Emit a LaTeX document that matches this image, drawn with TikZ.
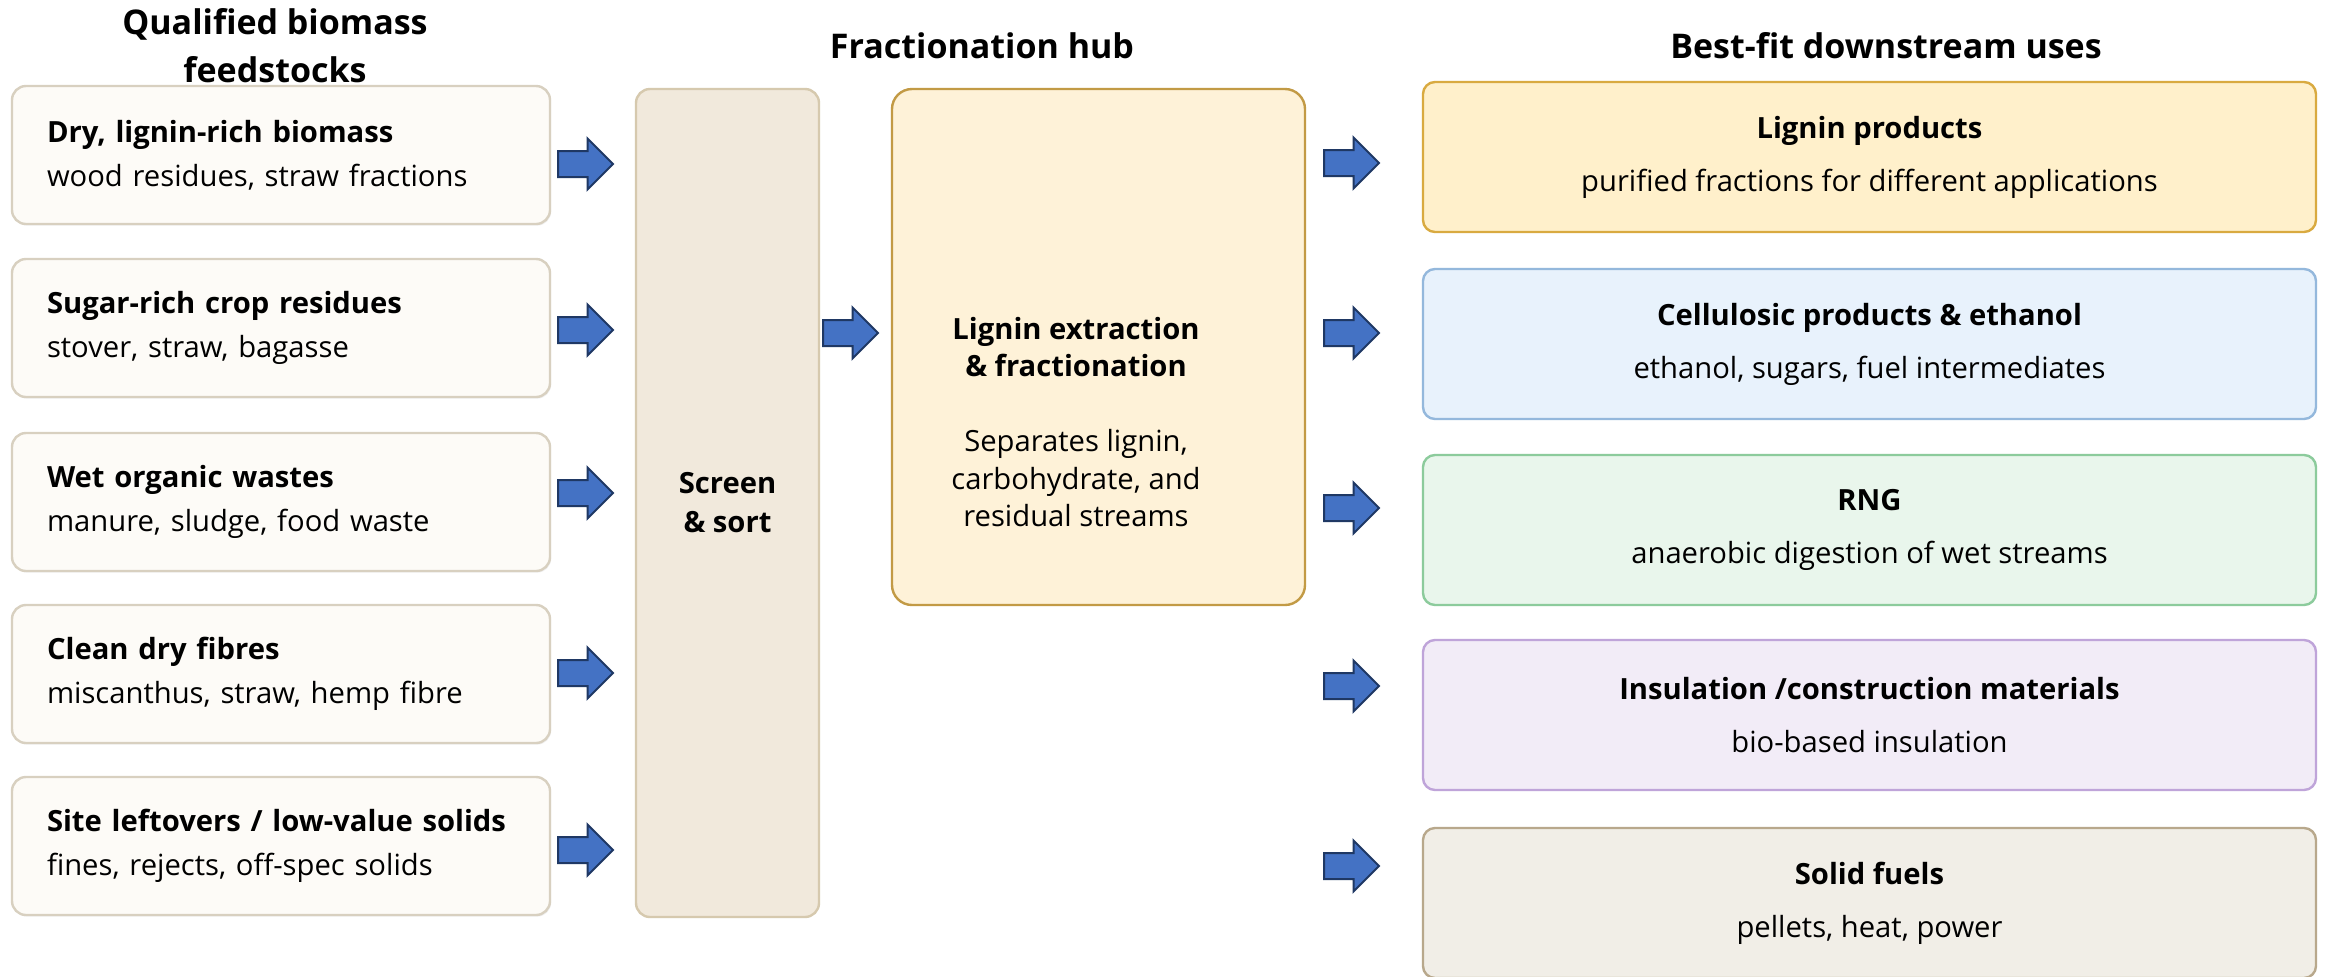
\documentclass[tikz,border=0pt]{standalone}
\usepackage{fontspec}
\setmainfont{Open Sans}
\usetikzlibrary{shapes.arrows,shadows}
\definecolor{leftfill}{HTML}{FDFBF7}
\definecolor{leftdraw}{HTML}{D8D0C0}
\definecolor{screenfill}{HTML}{F1E9DC}
\definecolor{screendraw}{HTML}{D6C9AE}
\definecolor{lignfill}{HTML}{FEF2D8}
\definecolor{ligndraw}{HTML}{C29A45}
\definecolor{ronefill}{HTML}{FFF0CB}
\definecolor{ronedraw}{HTML}{D9AA40}
\definecolor{rtwofill}{HTML}{E8F2FC}
\definecolor{rtwodraw}{HTML}{94B8DC}
\definecolor{rthreefill}{HTML}{E9F6EC}
\definecolor{rthreedraw}{HTML}{8CCB9C}
\definecolor{rfourfill}{HTML}{F2ECF7}
\definecolor{rfourdraw}{HTML}{BFA4D9}
\definecolor{rfivefill}{HTML}{F1EEE7}
\definecolor{rfivedraw}{HTML}{B8A88C}
\definecolor{arrfill}{HTML}{4472C4}
\definecolor{arrdraw}{HTML}{1F3864}
\tikzset{
  heading/.style={font=\fontsize{17}{24}\selectfont\bfseries, align=center, inner sep=0pt},
  lbox/.style={draw=leftdraw, fill=leftfill, line width=1.2pt, rounded corners=7pt,
    minimum width=269pt, minimum height=69pt, text width=234pt, align=left, inner sep=0pt,
    font=\fontsize{14.6}{22}\selectfont,
    drop shadow={shadow xshift=0.6pt, shadow yshift=-0.8pt, opacity=0.12}},
  rbox/.style={line width=1.2pt, rounded corners=6pt,
    minimum width=446.5pt, minimum height=75pt, align=center, inner sep=0pt,
    font=\fontsize{14.6}{26.5}\selectfont},
  barrow/.style={single arrow, draw=arrdraw, fill=arrfill, line width=1pt,
    minimum height=27.5pt, single arrow head extend=6.25pt,
    inner xsep=0pt, inner ysep=6pt, anchor=tail}
}
\begin{document}
\begin{tikzpicture}[x=0.5pt,y=-0.5pt]
\useasboundingbox (0,0) rectangle (2330,976);
\fill[white] (0,0) rectangle (2330,976);

% headings
\node[heading] (h1) at (275,46) {Qualified biomass\\feedstocks};
\node[heading] (h2) at (982,46) {Fractionation hub};
\node[heading] (h3) at (1886,46) {Best-fit downstream uses};

% left boxes
\node[lbox] (l1) at (281,155) {\textbf{Dry, lignin-rich biomass}\\wood residues, straw fractions};
\node[lbox] (l2) at (281,328) {\textbf{Sugar-rich crop residues}\\stover, straw, bagasse};
\node[lbox] (l3) at (281,502) {\textbf{Wet organic wastes}\\manure, sludge, food waste};
\node[lbox] (l4) at (281,674) {\textbf{Clean dry fibres}\\miscanthus, straw, hemp fibre};
\node[lbox] (l5) at (281,846) {\textbf{Site leftovers / low-value solids}\\fines, rejects, off-spec solids};

% screen & sort
\node[draw=screendraw, fill=screenfill, line width=1.2pt, rounded corners=7pt,
  minimum width=91.5pt, minimum height=414pt, inner sep=0pt, align=center,
  font=\fontsize{14.6}{19.5}\selectfont\bfseries] (screen) at (727.5,503) {Screen\\\& sort};

% lignin box
\node[draw=ligndraw, fill=lignfill, line width=1.2pt, rounded corners=10pt,
  minimum width=206.5pt, minimum height=258pt, inner sep=0pt] (lign) at (1098.5,347) {};
\node[align=center, inner sep=0pt, font=\fontsize{14.6}{18.75}\selectfont] (ligntxt) at (1076,422)
  {\textbf{Lignin extraction}\\\textbf{\& fractionation}\\[18.75pt]Separates lignin,\\carbohydrate, and\\residual streams};

% right boxes
\node[rbox, draw=ronedraw, fill=ronefill] (r1) at (1869.5,157) {\textbf{Lignin products}\\purified fractions for different applications};
\node[rbox, draw=rtwodraw, fill=rtwofill] (r2) at (1869.5,344) {\textbf{Cellulosic products \& ethanol}\\ethanol, sugars, fuel intermediates};
\node[rbox, draw=rthreedraw, fill=rthreefill] (r3) at (1869.5,530) {\textbf{RNG}\\anaerobic digestion of wet streams};
\node[rbox, draw=rfourdraw, fill=rfourfill] (r4) at (1869.5,715) {\textbf{Insulation /construction materials}\\bio-based insulation};
\node[rbox, draw=rfivedraw, fill=rfivefill] (r5) at (1869.5,903) {\textbf{Solid fuels}\\pellets, heat, power};

% arrows
\node[barrow] (la1) at (557,164) {};
\node[barrow] (la2) at (557,330) {};
\node[barrow] (la3) at (557,493) {};
\node[barrow] (la4) at (557,673) {};
\node[barrow] (la5) at (557,850) {};
\node[barrow] (ma) at (822,333) {};
\node[barrow] (ra1) at (1323,163) {};
\node[barrow] (ra2) at (1323,333) {};
\node[barrow] (ra3) at (1323,508) {};
\node[barrow] (ra4) at (1323,686) {};
\node[barrow] (ra5) at (1323,866) {};
\end{tikzpicture}
\end{document}
